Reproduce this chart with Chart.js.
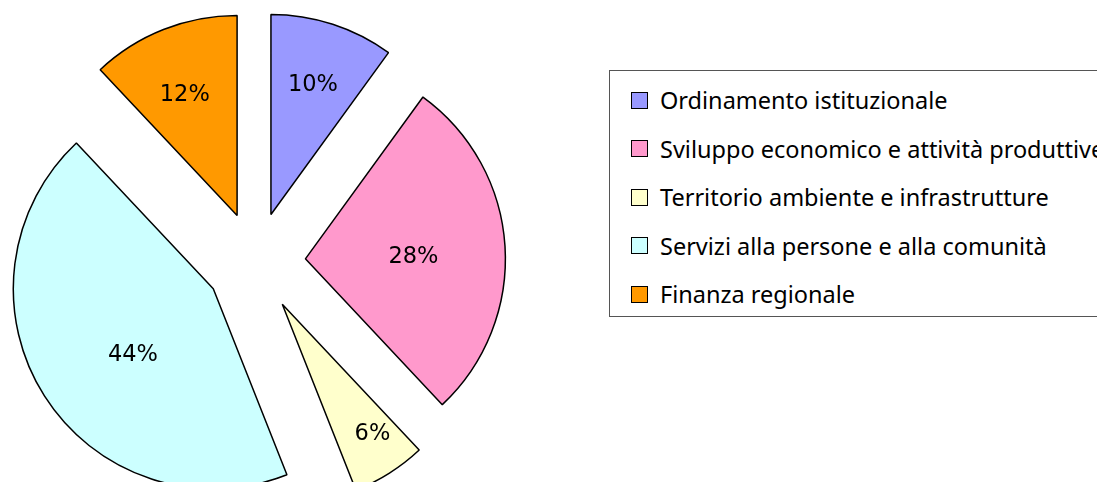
<!DOCTYPE html>
<html>
<head>
<meta charset="utf-8">
<script src="https://cdn.jsdelivr.net/npm/chart.js@4/dist/chart.umd.min.js"></script>
<style>
  html, body { margin: 0; padding: 0; background: #fff; }
  #wrap { position: relative; width: 1097px; height: 482px; overflow: hidden; }
  #chart { position: absolute; left: 0; top: 0; }
  #legend {
    position: absolute; left: 609px; top: 70px; width: 520px; height: 247px;
    border: 1px solid #555; box-sizing: border-box; background: #fff;
    font-family: "Noto Sans", "Open Sans", sans-serif; font-size: 23.5px; color: #000;
  }
  .item { position: absolute; left: 21px; height: 28px; display: flex; align-items: center; white-space: nowrap; }
  .box { width: 15px; height: 15px; border: 1.5px solid #000; margin-right: 12px; }
</style>
</head>
<body>
<div id="wrap">
  <canvas id="chart" width="1097" height="482"></canvas>
  <div id="legend"></div>
</div>
<script>
document.addEventListener('DOMContentLoaded', () => {
    const categories = [
        'Ordinamento istituzionale',
        'Sviluppo economico e attività produttive',
        'Territorio ambiente e infrastrutture',
        'Servizi alla persone e alla comunità',
        'Finanza regionale'
    ];
    const shares = [10, 28, 6, 44, 12];
    const colors = ['#9999FF', '#FF99CC', '#FFFFCC', '#CCFFFF', '#FF9900'];

    const explode = 50; // px shift of every slice away from the center

    // legend built from the same arrays
    const legend = document.getElementById('legend');
    categories.forEach((name, i) => {
        const row = document.createElement('div');
        row.className = 'item';
        row.style.top = (15 + i * 48.5) + 'px';
        row.innerHTML = `<span class="box" style="background:${colors[i]}"></span><span>${name}</span>`;
        legend.appendChild(row);
    });

    const pieCenter = (chart) => {
        const a = chart.chartArea;
        return { x: (a.left + a.right) / 2, y: (a.top + a.bottom) / 2 };
    };

    // Chart.js 'offset' also grows the radius of thin slices, so move the arcs here instead
    const explodeArcs = {
        id: 'explodeArcs',
        beforeDatasetsDraw(chart) {
            const c = pieCenter(chart);
            chart.getDatasetMeta(0).data.forEach(arc => {
                const mid = (arc.startAngle + arc.endAngle) / 2;
                arc.x = c.x + Math.cos(mid) * explode;
                arc.y = c.y + Math.sin(mid) * explode;
            });
        }
    };

    // percent labels; Excel doesn't put them on the bisector exactly, so dist + small angle nudge
    const pctLabels = {
        id: 'pctLabels',
        afterDatasetsDraw(chart, args, opts) {
            const ctx = chart.ctx;
            const c = pieCenter(chart);
            ctx.save();
            ctx.font = '22.5px "DejaVu Sans", sans-serif';
            ctx.fillStyle = '#000';
            ctx.textAlign = 'center';
            ctx.textBaseline = 'middle';
            chart.getDatasetMeta(0).data.forEach((arc, i) => {
                const a = (arc.startAngle + arc.endAngle) / 2 + opts.nudge[i] * Math.PI / 180;
                const d = opts.dist[i];
                ctx.fillText(shares[i] + '%', c.x + Math.cos(a) * d, c.y + Math.sin(a) * d);
            });
            ctx.restore();
        }
    };

    new Chart(document.getElementById('chart'), {
        type: 'pie',
        data: {
            labels: categories,
            datasets: [{
                data: shares,
                backgroundColor: colors,
                borderColor: '#000',
                borderWidth: 1.5,
                clip: false
            }]
        },
        options: {
            responsive: false,
            animation: false,
            radius: 200,
            layout: { padding: { left: 0, top: 42, right: 586, bottom: 0 } },
            plugins: {
                legend: { display: false },
                tooltip: { enabled: false },
                pctLabels: {
                    dist: [186, 158, 208, 154, 181],
                    nudge: [0, 1.8, -1.8, -4.9, -1.4]
                }
            }
        },
        plugins: [explodeArcs, pctLabels]
    });
});
</script>
</body>
</html>
